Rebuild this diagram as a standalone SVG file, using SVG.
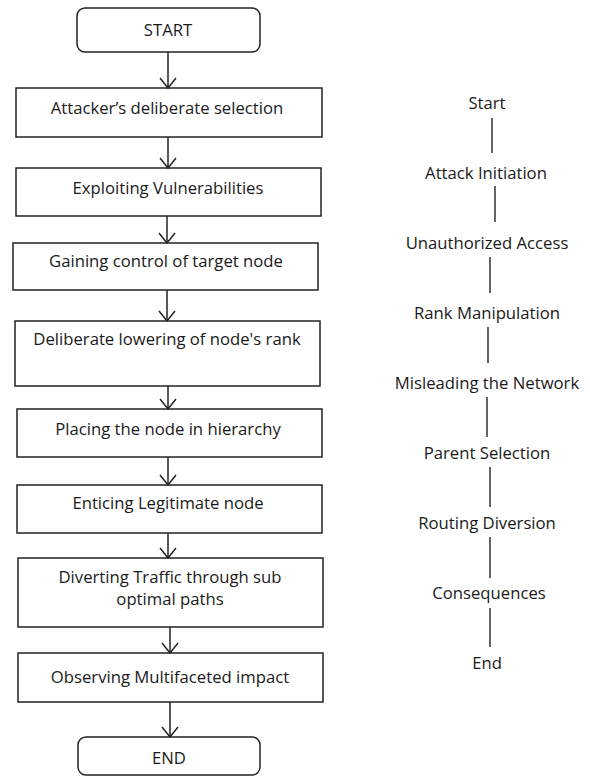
<svg xmlns="http://www.w3.org/2000/svg" width="590" height="778" viewBox="0 0 590 778">
  <style>
    .box { fill: #ffffff; stroke: #222222; stroke-width: 1.5; }
    .lbl { font-family: "Open Sans", "Liberation Sans", Arial, sans-serif; font-size: 16.7px; fill: #1a1a1a; text-anchor: middle; }
    .arrow { stroke: #222222; stroke-width: 1.5; fill: none; }
    .tick { stroke: #111111; stroke-width: 1.3; }
  </style>
  <defs>
    <marker id="vhead" viewBox="0 0 12 18" refX="11" refY="9" markerWidth="12" markerHeight="18" markerUnits="userSpaceOnUse" orient="auto">
      <path d="M1,1 L11,9 L1,17" fill="none" stroke="#222222" stroke-width="1.5"/>
    </marker>
  </defs>
  <rect width="590" height="778" fill="#ffffff"/>

  <!-- left flowchart -->
  <g id="start"><rect class="box" x="77" y="8" width="183" height="44" rx="8"/><text class="lbl" x="168" y="36">START</text></g>
  <g id="step1"><rect class="box" x="16" y="88" width="306" height="49"/><text class="lbl" x="167" y="114">Attacker’s deliberate selection</text></g>
  <g id="step2"><rect class="box" x="16" y="168" width="305" height="48"/><text class="lbl" x="168" y="194">Exploiting Vulnerabilities</text></g>
  <g id="step3"><rect class="box" x="13" y="243" width="305" height="47"/><text class="lbl" x="166" y="267">Gaining control of target node</text></g>
  <g id="step4"><rect class="box" x="15" y="321" width="305" height="65"/><text class="lbl" x="167" y="345">Deliberate lowering of node's rank</text></g>
  <g id="step5"><rect class="box" x="17" y="409" width="305" height="48"/><text class="lbl" x="168" y="435">Placing the node in hierarchy</text></g>
  <g id="step6"><rect class="box" x="17" y="485" width="305" height="48"/><text class="lbl" x="168" y="509">Enticing Legitimate node</text></g>
  <g id="step7"><rect class="box" x="18" y="558" width="305" height="69"/><text class="lbl" x="170" y="583">Diverting Traffic through sub</text><text class="lbl" x="170" y="605">optimal paths</text></g>
  <g id="step8"><rect class="box" x="18" y="653" width="305" height="49"/><text class="lbl" x="170" y="683">Observing Multifaceted impact</text></g>
  <g id="end"><rect class="box" x="78" y="737" width="182" height="38" rx="8"/><text class="lbl" x="169" y="764">END</text></g>

  <g id="connectors">
    <line class="arrow" x1="168" y1="52" x2="168" y2="88" marker-end="url(#vhead)"/>
    <line class="arrow" x1="168" y1="137" x2="168" y2="168" marker-end="url(#vhead)"/>
    <line class="arrow" x1="167" y1="216" x2="167" y2="243" marker-end="url(#vhead)"/>
    <line class="arrow" x1="167" y1="290" x2="167" y2="321" marker-end="url(#vhead)"/>
    <line class="arrow" x1="168" y1="386" x2="168" y2="409" marker-end="url(#vhead)"/>
    <line class="arrow" x1="168" y1="457" x2="168" y2="485" marker-end="url(#vhead)"/>
    <line class="arrow" x1="168" y1="533" x2="168" y2="558" marker-end="url(#vhead)"/>
    <line class="arrow" x1="170" y1="627" x2="170" y2="653" marker-end="url(#vhead)"/>
    <line class="arrow" x1="170" y1="702" x2="170" y2="737" marker-end="url(#vhead)"/>

    <!-- right-hand timeline ticks -->
    <line class="tick" x1="492" y1="118" x2="492" y2="153"/>
    <line class="tick" x1="495" y1="186" x2="495" y2="222"/>
    <line class="tick" x1="490" y1="257" x2="490" y2="293"/>
    <line class="tick" x1="488" y1="327" x2="488" y2="363"/>
    <line class="tick" x1="487" y1="397" x2="487" y2="437"/>
    <line class="tick" x1="490" y1="467" x2="490" y2="507"/>
    <line class="tick" x1="490" y1="537" x2="490" y2="578"/>
    <line class="tick" x1="490" y1="608" x2="490" y2="647"/>
  </g>

  <!-- right-hand timeline labels -->
  <g id="t-start"><text class="lbl" x="487" y="109">Start</text></g>
  <g id="t-initiation"><text class="lbl" x="486" y="179">Attack Initiation</text></g>
  <g id="t-access"><text class="lbl" x="487" y="249">Unauthorized Access</text></g>
  <g id="t-rank"><text class="lbl" x="487" y="319">Rank Manipulation</text></g>
  <g id="t-mislead"><text class="lbl" x="487" y="389">Misleading the Network</text></g>
  <g id="t-parent"><text class="lbl" x="487" y="459">Parent Selection</text></g>
  <g id="t-routing"><text class="lbl" x="487" y="529">Routing Diversion</text></g>
  <g id="t-conseq"><text class="lbl" x="489" y="599">Consequences</text></g>
  <g id="t-end"><text class="lbl" x="487" y="669">End</text></g>
</svg>
